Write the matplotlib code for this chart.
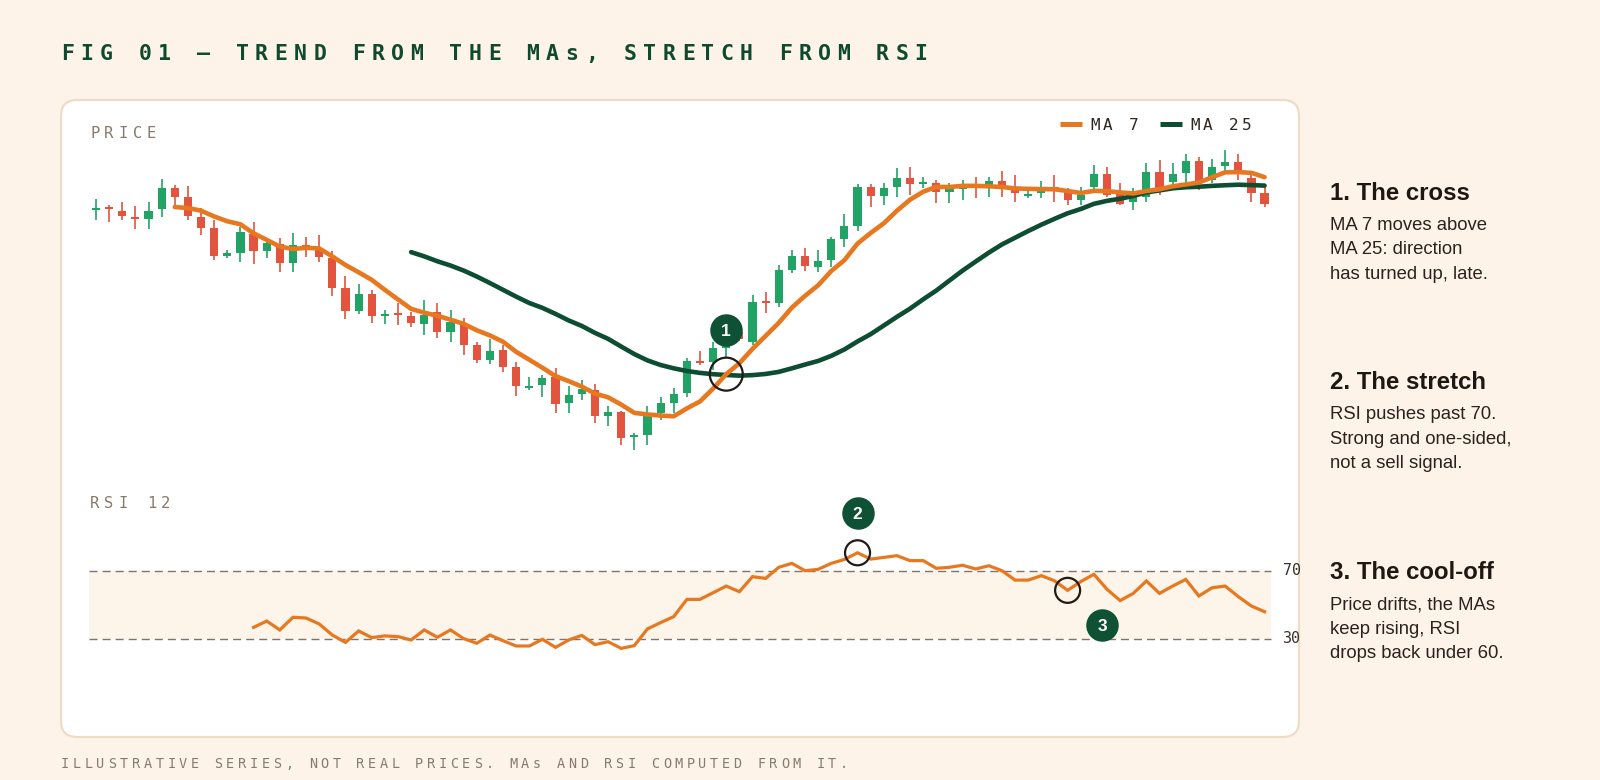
import numpy as np
import pandas as pd
import matplotlib
matplotlib.use("Agg")
import matplotlib.pyplot as plt
from matplotlib.patches import FancyBboxPatch
from matplotlib.transforms import offset_copy

# ---- Data: illustrative OHLC series (arbitrary price units) ----
opens = [390, 392, 389, 383, 381, 391, 412, 403, 383, 372,
         344, 347, 366, 349, 356, 337, 355, 352, 342, 312,
         289, 306, 284, 286, 284, 276, 288, 268, 275, 255,
         240, 250, 233, 212, 215, 223, 197, 206, 210, 184,
         188, 163, 165, 187, 197, 207, 239, 238, 252, 268,
         258, 299, 297, 330, 344, 333, 340, 361, 374, 413,
         404, 413, 422, 416, 417, 408, 411, 413, 415, 419,
         412, 404, 407, 412, 408, 400, 413, 426, 407, 398,
         403, 428, 418, 427, 439, 420, 434, 438, 422, 407]
highs = [401, 395, 398, 394, 398, 421, 415, 414, 392, 380,
         350, 373, 378, 360, 362, 367, 363, 365, 349, 324,
         316, 310, 290, 297, 288, 300, 297, 290, 282, 258,
         261, 255, 238, 223, 225, 232, 214, 220, 216, 194,
         189, 167, 194, 203, 212, 242, 249, 258, 275, 272,
         305, 308, 335, 350, 352, 350, 363, 386, 416, 416,
         417, 432, 433, 423, 420, 417, 420, 423, 423, 429,
         425, 410, 419, 425, 412, 413, 435, 433, 417, 412,
         437, 440, 437, 446, 443, 441, 450, 446, 425, 414]
lows = [380, 378, 380, 371, 371, 383, 395, 380, 365, 340,
        342, 338, 336, 342, 328, 328, 343, 338, 304, 281,
        286, 277, 276, 275, 273, 265, 262, 258, 245, 237,
        236, 228, 204, 210, 203, 187, 187, 200, 177, 174,
        155, 150, 155, 180, 187, 203, 235, 230, 243, 259,
        255, 287, 293, 327, 329, 328, 333, 353, 369, 393,
        395, 403, 405, 412, 397, 397, 400, 402, 403, 403,
        398, 402, 402, 398, 395, 395, 407, 403, 395, 390,
        398, 405, 412, 412, 410, 417, 428, 420, 398, 393]
closes = [391, 391, 384, 381, 389, 412, 403, 384, 372, 344,
          347, 368, 349, 357, 337, 355, 352, 343, 312, 289,
          306, 284, 285, 285, 277, 285, 268, 278, 255, 240,
          249, 233, 214, 213, 222, 196, 205, 211, 184, 188,
          162, 164, 185, 197, 206, 239, 237, 252, 265, 261,
          298, 297, 330, 344, 334, 339, 361, 374, 413, 404,
          412, 422, 416, 417, 408, 412, 412, 412, 419, 411,
          407, 405, 410, 411, 400, 405, 426, 405, 396, 403,
          428, 412, 426, 439, 418, 433, 438, 429, 407, 396]

# RSI 12 values, first value at bar 12
rsi_start = 12
rsi_12 = [36.8, 40.5, 35.3, 42.7, 42.3, 38.8, 32.3, 28.0, 34.7, 30.8,
          31.8, 31.4, 29.4, 35.3, 31.0, 35.3, 30.2, 27.5, 32.3, 29.0,
          25.9, 25.9, 29.8, 25.1, 29.4, 32.1, 26.7, 28.4, 24.5, 26.1,
          35.9, 39.6, 43.1, 53.2, 53.2, 57.1, 61.0, 57.7,
          66.5, 65.5, 72.0, 74.3, 70.0, 70.8, 74.3, 76.6, 80.5, 76.8,
          77.8, 78.8, 75.9, 75.9, 71.4, 72.0, 73.2, 71.0, 72.9, 70.0,
          64.5, 64.5, 67.1, 64.1, 58.5, 63.6, 67.9, 59.1, 52.5, 56.7,
          64.0, 56.7, 61.0, 64.9, 55.2, 60.0, 61.0, 54.8, 49.3, 46.0]

ma_fast, ma_slow = 7, 25
rsi_high, rsi_low = 70, 30
cross_bar, stretch_bar, cooloff_bar = 48, 58, 74

notes = [
    ("1. The cross", ["MA 7 moves above", "MA 25: direction", "has turned up, late."]),
    ("2. The stretch", ["RSI pushes past 70.", "Strong and one-sided,", "not a sell signal."]),
    ("3. The cool-off", ["Price drifts, the MAs", "keep rising, RSI", "drops back under 60."]),
]

# ---- Style ----
BG = "#FDF3E9"
CARD_EDGE = "#EFDCC6"
UP = "#22A366"
DOWN = "#E2543E"
ORANGE = "#E8781F"
DEEP = "#0D4D32"
BADGE = "#0E5134"
INK = "#221A14"
MUTED = "#8A7A6B"
BAND = "#FDF4EA"
GRID = "#7E746B"
MONO = "DejaVu Sans Mono"
SANS = "Liberation Sans"

W, H = 1600, 780
PT = 0.72  # points per pixel at dpi 100
X0, STEP = 96, 13.13  # pixel of bar 0, pixels per bar

plt.rcParams["lines.scale_dashes"] = False
fig = plt.figure(figsize=(W / 100, H / 100), dpi=100)
fig.patch.set_facecolor(BG)

bg = fig.add_axes([0, 0, 1, 1])
bg.set_xlim(0, W)
bg.set_ylim(H, 0)
bg.axis("off")


def px_axes(x0, y0, x1, y1):
    a = fig.add_axes([x0 / W, 1 - y1 / H, (x1 - x0) / W, (y1 - y0) / H])
    a.set_facecolor("none")
    a.axis("off")
    a.set_xlim((x0 - X0) / STEP, (x1 - X0) / STEP)
    return a


def spaced(x, y, s, size_px, step_px, **kw):
    # monospace text with letter spacing, one glyph at a time
    for k, ch in enumerate(s):
        bg.text(x + k * step_px, y, ch, fontsize=size_px * PT, family=MONO,
                va="baseline", ha="left", **kw)


# card
bg.add_patch(FancyBboxPatch((61, 100), 1238, 637,
                            boxstyle="round,pad=0,rounding_size=16",
                            facecolor="white", edgecolor=CARD_EDGE, lw=1.6))

spaced(61, 60, "FIG 01 \u2013 TREND FROM THE MAs, STRETCH FROM RSI", 21.5, 19.4,
       color="#0F4A2E", fontweight="bold")
spaced(90, 138, "PRICE", 15.5, 14.2, color=MUTED)
spaced(90, 508, "RSI 12", 15.5, 14.2, color=MUTED)
spaced(61, 768, "ILLUSTRATIVE SERIES, NOT REAL PRICES. MAs AND RSI COMPUTED FROM IT.",
       13.5, 11.8, color=MUTED)

# legend
bg.plot([1060, 1082], [124, 124], color=ORANGE, lw=5 * PT, solid_capstyle="butt")
spaced(1090, 130, "MA 7", 16, 13, color="#2E2621")
bg.plot([1160, 1182], [124, 124], color=DEEP, lw=5 * PT, solid_capstyle="butt")
spaced(1190, 130, "MA 25", 16, 13, color="#2E2621")

# ---- price panel ----
ax = px_axes(80, 140, 1290, 470)
ax.set_ylim(130, 460)

o = np.array(opens, float)
h = np.array(highs, float)
l = np.array(lows, float)
c = np.array(closes, float)
x = np.arange(len(c))
cols = np.where(c >= o, UP, DOWN)

ax.vlines(x, l, h, colors=cols, lw=1.2, zorder=2)
body_lo = np.minimum(o, c)
body_h = np.maximum(np.abs(c - o), 2)
ax.bar(x, body_h, bottom=body_lo, width=0.62, color=cols, zorder=3)

s = pd.Series(c)
ma7 = s.rolling(ma_fast).mean()
ma25 = s.rolling(ma_slow).mean()
ax.plot(x, ma25, color=DEEP, lw=3.3, solid_capstyle="round", zorder=4)
ax.plot(x, ma7, color=ORANGE, lw=3.3, solid_capstyle="round", zorder=5)

# ---- RSI panel ----
rx = px_axes(80, 519.5, 1290, 690.2)
rx.set_ylim(0, 100)
rx.fill_between([-0.5, len(c) - 0.5], rsi_low, rsi_high, color=BAND, zorder=1, lw=0)
for lvl in (rsi_high, rsi_low):
    rx.hlines(lvl, -0.5, len(c) - 0.5, colors=GRID, lw=1.0,
              linestyles=[(0, (5.8, 3.6))], zorder=2)
    rx.text(90.4, lvl, str(lvl), family=MONO, fontsize=15 * PT, color="#3A302A",
            va="center", ha="left")
rsi_x = np.arange(rsi_start, rsi_start + len(rsi_12))
rx.plot(rsi_x, rsi_12, color=ORANGE, lw=2.3, solid_joinstyle="miter", zorder=3)


def ring(a, xi, yi, diam_px):
    a.scatter([xi], [yi], s=(diam_px * PT) ** 2, facecolors="none",
              edgecolors=INK, linewidths=1.6, zorder=7, clip_on=False)


def badge(a, xi, yi, dx_px, dy_px, label):
    tr = offset_copy(a.transData, fig=fig, x=dx_px, y=dy_px, units="dots")
    a.scatter([xi], [yi], s=(32.5 * PT) ** 2, color=BADGE, transform=tr,
              zorder=8, clip_on=False, linewidths=0)
    a.text(xi, yi, label, transform=tr, ha="center", va="center_baseline",
           color="white", fontsize=12.5, fontweight="bold", family=SANS, zorder=9)


rsi_at = dict(zip(rsi_x, rsi_12))
ring(ax, cross_bar, ma7[cross_bar], 33)
badge(ax, cross_bar, ma7[cross_bar], -0.5, 44.5, "1")
ring(rx, stretch_bar, rsi_at[stretch_bar], 25)
badge(rx, stretch_bar, rsi_at[stretch_bar], 0, 40, "2")
ring(rx, cooloff_bar, rsi_at[cooloff_bar], 25)
badge(rx, cooloff_bar, rsi_at[cooloff_bar], 34.5, -35, "3")

# ---- side notes ----
for (head, lines), y0 in zip(notes, [200, 389, 579]):
    bg.text(1330, y0, head, family=SANS, fontsize=24 * PT, fontweight="bold",
            color="#1E1712", va="baseline")
    for k, line in enumerate(lines):
        bg.text(1330, y0 + 30 + k * 24.5, line, family=SANS, fontsize=18.5 * PT,
                color="#2A221C", va="baseline")

fig.savefig("out.png", dpi=100, facecolor=BG)
